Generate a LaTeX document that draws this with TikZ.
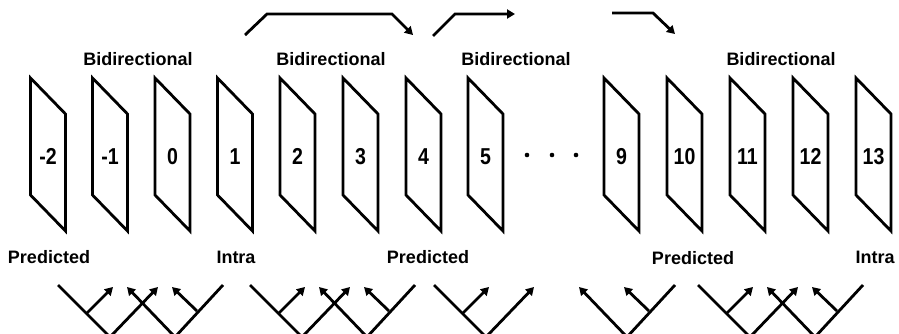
\documentclass[tikz,border=0pt]{standalone}
\usepackage{fontspec}
\setmainfont{Liberation Sans}
\usetikzlibrary{arrows.meta}
\newfontfamily\numfont[FakeStretch=0.85]{Liberation Sans}

\tikzset{
  frame/.style={line width=2.8pt, line join=miter},
  lbl/.style={font=\fontsize{18}{20}\selectfont\bfseries, inner sep=0pt},
  num/.style={font=\fontsize{23}{25}\numfont\bfseries, inner sep=0pt, anchor=base},
  ref/.style={line width=2.8pt, -{Triangle[length=8pt,width=9pt]}},
}

% one video frame: left edge at x=#1, number #2, node name f#3
\newcommand\videoframe[3]{%
  \draw[frame] (#1,78) -- (#1+35,114) -- (#1+35,231) -- (#1,195) -- cycle;
  \node[num] (f#3) at (#1+17.5,164) {#2};
}

% forward prediction wedge starting at x=#1
\newcommand\fwdwedge[2]{%
  \coordinate (#2-top) at (#1,285);
  \coordinate (#2-low) at (#1+52,337);
  \coordinate (#2-tipA) at (#1+100,287);
  \coordinate (#2-fork) at (#1+29,313);
  \coordinate (#2-tipB) at (#1+55,287);
  \draw[ref] (#2-top) -- (#2-low) -- (#2-tipA);
  \draw[ref] (#2-fork) -- (#2-tipB);
}

% backward prediction wedge whose open end is at x=#1+165
\newcommand\bwdwedge[2]{%
  \coordinate (#2-top) at (#1+165,285);
  \coordinate (#2-low) at (#1+117,337);
  \coordinate (#2-tipA) at (#1+69,287);
  \coordinate (#2-fork) at (#1+139,311);
  \coordinate (#2-tipB) at (#1+114,287);
  \draw[ref] (#2-top) -- (#2-low) -- (#2-tipA);
  \draw[ref] (#2-fork) -- (#2-tipB);
}

\begin{document}
\begin{tikzpicture}[x=1pt,y=-1pt]
  \useasboundingbox (0,0) rectangle (899,333);
  \clip (0,0) rectangle (899,333);

  % frames
  \videoframe{30.5}{-2}{m2}
  \videoframe{92.5}{-1}{m1}
  \videoframe{155}{0}{0}
  \videoframe{217.5}{1}{1}
  \videoframe{280}{2}{2}
  \videoframe{343}{3}{3}
  \videoframe{406}{4}{4}
  \videoframe{468}{5}{5}
  \videoframe{604}{9}{9}
  \videoframe{667}{10}{10}
  \videoframe{730}{11}{11}
  \videoframe{793}{12}{12}
  \videoframe{856}{13}{13}

  % ellipsis between frame 5 and frame 9
  \fill (527,155) circle (2.3pt);
  \fill (552,155) circle (2.3pt);
  \fill (576,155) circle (2.3pt);

  % type labels above
  \node[lbl] (b1) at (138,59) {Bidirectional};
  \node[lbl] (b2) at (331,59) {Bidirectional};
  \node[lbl] (b3) at (516,59) {Bidirectional};
  \node[lbl] (b4) at (781,59) {Bidirectional};

  % type labels below
  \node[lbl] (p1) at (49,257) {Predicted};
  \node[lbl] (i1) at (236,257) {Intra};
  \node[lbl] (p2) at (428,257) {Predicted};
  \node[lbl] (p3) at (693,258) {Predicted};
  \node[lbl] (i2) at (875,257) {Intra};

  % transmission order arrows on top
  \coordinate (t1a) at (245,35);
  \coordinate (t1b) at (267,14);
  \coordinate (t1c) at (392,14);
  \coordinate (t1d) at (413,35);
  \draw[ref] (t1a) -- (t1b) -- (t1c) -- (t1d);
  \coordinate (t2a) at (433,36);
  \coordinate (t2b) at (455,14);
  \coordinate (t2c) at (515,14);
  \draw[ref] (t2a) -- (t2b) -- (t2c);
  \coordinate (t3a) at (612,13);
  \coordinate (t3b) at (653,13);
  \coordinate (t3c) at (675,34);
  \draw[ref] (t3a) -- (t3b) -- (t3c);

  % prediction references below
  \fwdwedge{58}{w1}
  \bwdwedge{58}{w2}
  \fwdwedge{250}{w3}
  \bwdwedge{250}{w4}
  \fwdwedge{434}{w5}
  \bwdwedge{510}{w6}
  \fwdwedge{698}{w7}
  \bwdwedge{698}{w8}
\end{tikzpicture}
\end{document}
